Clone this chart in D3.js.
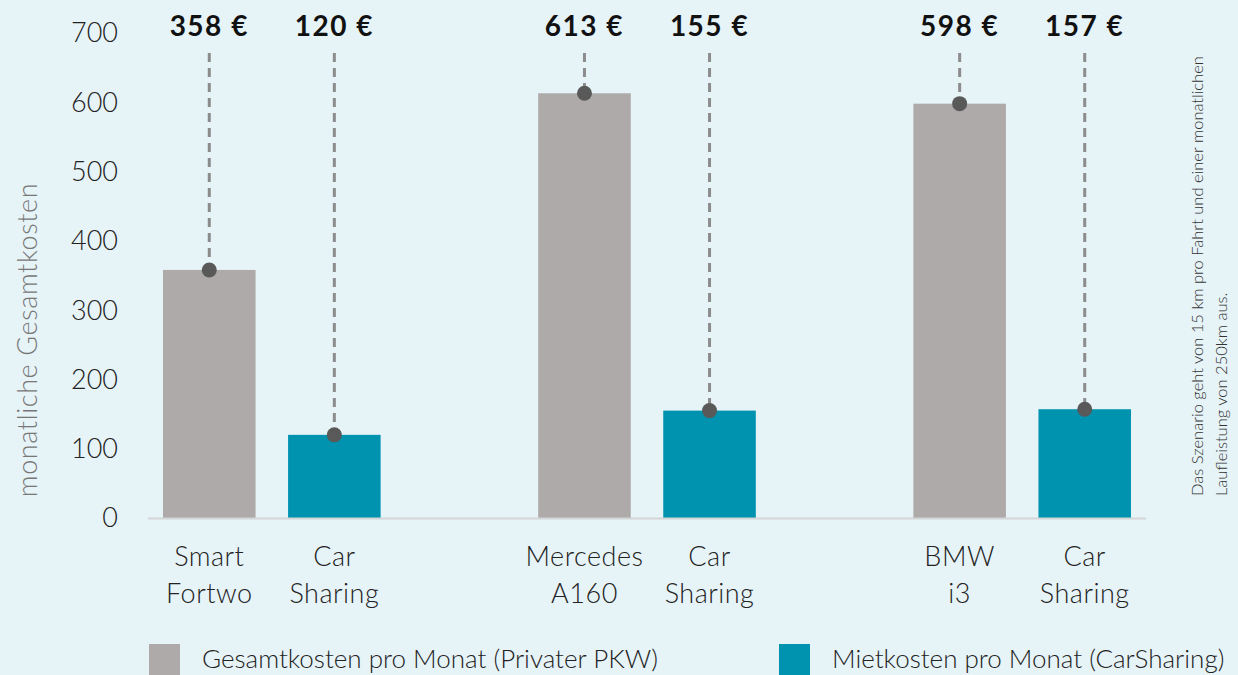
<!DOCTYPE html>
<html>
<head>
<meta charset="utf-8">
<script src="https://cdn.jsdelivr.net/npm/d3@7"></script>
<style>
body { margin: 0; background: #e6f3f7; }
svg { display: block; font-family: "Lato", "Noto Sans", sans-serif; }
</style>
</head>
<body>
<script>
// data
var groups = ["Smart Fortwo", "Mercedes A160", "BMW i3"];
var series = ["Gesamtkosten pro Monat (Privater PKW)", "Mietkosten pro Monat (CarSharing)"];
var privatKosten = [358, 613, 598];
var carSharingKosten = [120, 155, 157];
var catLabels = [["Smart", "Fortwo"], ["Car", "Sharing"], ["Mercedes", "A160"], ["Car", "Sharing"], ["BMW", "i3"], ["Car", "Sharing"]];
var yTicks = [0, 100, 200, 300, 400, 500, 600, 700];

var width = 1238, height = 675;
var colors = ["#aeaaa9", "#0093b0"];

var svg = d3.select("body").append("svg")
	.attr("width", width)
	.attr("height", height);

var data = [];
groups.forEach(function(g, i){
	data.push({group: g, s: 0, value: privatKosten[i]});
	data.push({group: g, s: 1, value: carSharingKosten[i]});
});

var x0 = d3.scaleBand()
	.domain(groups)
	.range([148, 1146])
	.paddingInner(0.42)
	.paddingOuter(0.04);

var x1 = d3.scaleBand()
	.domain([0, 1])
	.range([0, x0.bandwidth()])
	.paddingInner(0.26);

var y = d3.scaleLinear()
	.domain([0, 700])
	.range([518, 33]);

// y tick labels
svg.append("g")
	.selectAll("text")
	.data(yTicks)
	.enter().append("text")
	.attr("x", 118)
	.attr("y", function(d){ return y(d); })
	.attr("dy", "0.35em")
	.attr("text-anchor", "end")
	.style("font-size", "27px")
	.style("font-weight", 300)
	.style("fill", "#222")
	.text(function(d){ return d; });

// y title
svg.append("text")
	.attr("transform", "translate(37,340) rotate(-90)")
	.attr("text-anchor", "middle")
	.style("font-size", "27px")
	.style("font-weight", 300)
	.style("letter-spacing", "0.6px")
	.style("fill", "#777")
	.text("monatliche Gesamtkosten");

// bars
var bar = svg.selectAll(".bar")
	.data(data)
	.enter().append("g")
	.attr("class", "bar")
	.attr("transform", function(d){ return "translate(" + (x0(d.group) + x1(d.s)) + ",0)"; });

bar.append("rect")
	.attr("x", 0)
	.attr("y", function(d){ return y(d.value); })
	.attr("width", x1.bandwidth())
	.attr("height", function(d){ return y(0) - y(d.value); })
	.style("fill", function(d){ return colors[d.s]; });

// baseline
svg.append("line")
	.attr("x1", 148).attr("x2", 1146)
	.attr("y1", y(0) + 0.5).attr("y2", y(0) + 0.5)
	.style("stroke", "#d3d6d7")
	.style("stroke-width", 2);

// leader lines, dots and value labels
bar.append("line")
	.attr("x1", x1.bandwidth() / 2).attr("x2", x1.bandwidth() / 2)
	.attr("y1", 53)
	.attr("y2", function(d){ return y(d.value); })
	.style("stroke", "#8c8c8c")
	.style("stroke-width", 3)
	.style("stroke-dasharray", "9,6");

bar.append("circle")
	.attr("cx", x1.bandwidth() / 2)
	.attr("cy", function(d){ return y(d.value); })
	.attr("r", 7.5)
	.style("fill", "#595959");

bar.append("text")
	.attr("x", x1.bandwidth() / 2)
	.attr("y", 36)
	.attr("text-anchor", "middle")
	.style("font-size", "28px")
	.style("font-weight", 700)
	.style("letter-spacing", "1.5px")
	.style("fill", "#111")
	.text(function(d){ return d.value + " €"; });

// category labels
bar.append("text")
	.attr("text-anchor", "middle")
	.style("font-size", "27px")
	.style("font-weight", 300)
	.style("letter-spacing", "0.5px")
	.style("fill", "#222")
	.each(function(d, i){
		var t = d3.select(this);
		catLabels[i].forEach(function(line, j){
			t.append("tspan")
				.attr("x", x1.bandwidth() / 2)
				.attr("y", 566 + j * 37)
				.text(line);
		});
	});

// legend
var legendX = [149, 779];
var legend = svg.selectAll(".legend")
	.data(series)
	.enter().append("g")
	.attr("class", "legend")
	.attr("transform", function(d, i){ return "translate(" + legendX[i] + ",644)"; });

legend.append("rect")
	.attr("width", 31)
	.attr("height", 31)
	.style("fill", function(d, i){ return colors[i]; });

legend.append("text")
	.attr("x", 53)
	.attr("y", 24)
	.style("font-size", "26px")
	.style("font-weight", 300)
	.style("fill", "#222")
	.text(function(d){ return d; });

// note
var note = svg.append("text")
	.attr("transform", "translate(1203,496) rotate(-90)")
	.style("font-size", "16.5px")
	.style("font-weight", 300)
	.style("fill", "#333");
note.append("tspan").attr("x", 0).attr("y", 0).text("Das Szenario geht von 15 km pro Fahrt und einer monatlichen");
note.append("tspan").attr("x", 0).attr("y", 24).text("Laufleistung von 250km aus.");
</script>
</body>
</html>
